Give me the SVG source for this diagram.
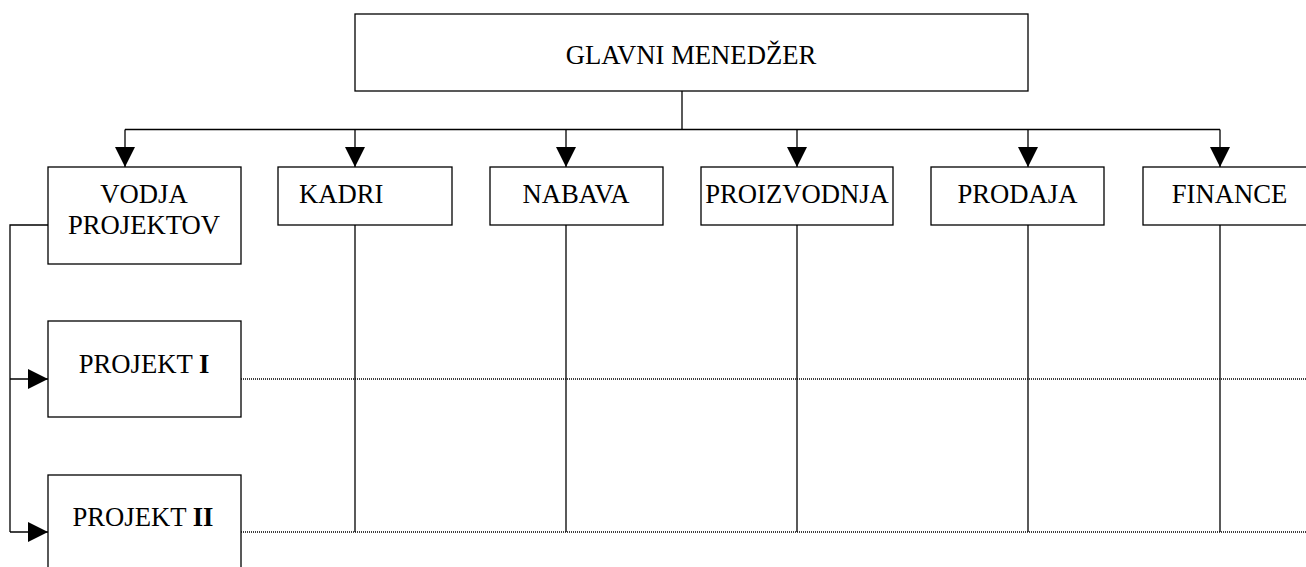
<svg xmlns="http://www.w3.org/2000/svg" width="1306" height="567" viewBox="0 0 1306 567">
  <style>
    .box { fill: #fff; stroke: #000; stroke-width: 1.3; }
    .ln { fill: none; stroke: #000; stroke-width: 1.3; }
    .dot { fill: none; stroke: #000; stroke-width: 1.4; stroke-dasharray: 1 1; }
    text { font-family: "Liberation Serif", "Times New Roman", serif; font-size: 26.67px; fill: #000; }
    .c { text-anchor: middle; }
  </style>
  <defs>
    <marker id="arrow" viewBox="0 0 20 20" refX="20" refY="10" markerWidth="20" markerHeight="20" markerUnits="userSpaceOnUse" orient="auto">
      <path d="M0,0 L20,10 L0,20 Z" fill="#000"/>
    </marker>
  </defs>

  <!-- connectors -->
  <g id="connectors">
    <polyline class="ln" points="682,91 682,129.5"/>
    <line class="ln" x1="125" y1="129.5" x2="1220" y2="129.5"/>
    <line class="ln" x1="125" y1="129.5" x2="125" y2="167" marker-end="url(#arrow)"/>
    <line class="ln" x1="355" y1="129.5" x2="355" y2="167" marker-end="url(#arrow)"/>
    <line class="ln" x1="566" y1="129.5" x2="566" y2="167" marker-end="url(#arrow)"/>
    <line class="ln" x1="797" y1="129.5" x2="797" y2="167" marker-end="url(#arrow)"/>
    <line class="ln" x1="1028" y1="129.5" x2="1028" y2="167" marker-end="url(#arrow)"/>
    <line class="ln" x1="1220" y1="129.5" x2="1220" y2="167" marker-end="url(#arrow)"/>

    <!-- department lines down to project rows -->
    <line class="ln" x1="355" y1="225" x2="355" y2="532"/>
    <line class="ln" x1="566" y1="225" x2="566" y2="532"/>
    <line class="ln" x1="797" y1="225" x2="797" y2="532"/>
    <line class="ln" x1="1028" y1="225" x2="1028" y2="532"/>
    <line class="ln" x1="1220" y1="225" x2="1220" y2="532"/>

    <!-- project manager to projects -->
    <polyline class="ln" points="48,225 10,225 10,532"/>
    <line class="ln" x1="10" y1="379" x2="48" y2="379" marker-end="url(#arrow)"/>
    <line class="ln" x1="10" y1="532" x2="48" y2="532" marker-end="url(#arrow)"/>

    <!-- project rows -->
    <line class="dot" x1="241" y1="379" x2="1306" y2="379"/>
    <line class="dot" x1="241" y1="532" x2="1306" y2="532"/>
  </g>

  <g id="glavni">
    <rect class="box" x="355" y="14" width="673" height="77"/>
    <text class="c" x="691" y="64">GLAVNI MENEDŽER</text>
  </g>

  <g id="vodja">
    <rect class="box" x="48" y="167" width="193" height="97"/>
    <text class="c" x="144" y="203">VODJA</text>
    <text class="c" x="144" y="234">PROJEKTOV</text>
  </g>

  <g id="kadri">
    <rect class="box" x="278" y="167" width="174" height="58"/>
    <text x="299" y="203">KADRI</text>
  </g>

  <g id="nabava">
    <rect class="box" x="490" y="167" width="173" height="58"/>
    <text class="c" x="576" y="203">NABAVA</text>
  </g>

  <g id="proizvodnja">
    <rect class="box" x="701" y="167" width="192" height="58"/>
    <text class="c" x="797" y="203">PROIZVODNJA</text>
  </g>

  <g id="prodaja">
    <rect class="box" x="931" y="167" width="173" height="58"/>
    <text class="c" x="1017.5" y="203">PRODAJA</text>
  </g>

  <g id="finance">
    <rect class="box" x="1143" y="167" width="170" height="58"/>
    <text class="c" x="1229.5" y="203">FINANCE</text>
  </g>

  <g id="projekt1">
    <rect class="box" x="48" y="321" width="193" height="96"/>
    <text class="c" x="144" y="373">PROJEKT <tspan font-weight="bold">I</tspan></text>
  </g>

  <g id="projekt2">
    <rect class="box" x="48" y="475" width="193" height="100"/>
    <text class="c" x="143" y="526">PROJEKT <tspan font-weight="bold">II</tspan></text>
  </g>
</svg>
